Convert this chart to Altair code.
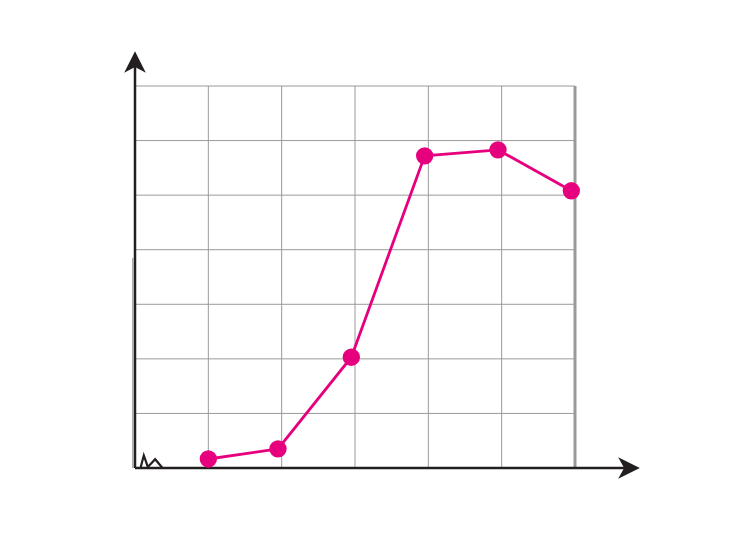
import altair as alt
import pandas as pd

# Data series (x in grid columns, y in grid rows)
xs = [1.0, 1.95, 2.95, 3.95, 4.95, 5.95]
ys = [0.165, 0.35, 2.03, 5.72, 5.83, 5.08]

grid_x = [1, 2, 3, 4, 5]
grid_y = [1, 2, 3, 4, 5, 6, 7]

# axis break zig-zag (data units)
zz_x = [0.075, 0.12, 0.175, 0.275, 0.375]
zz_y = [0.0, 0.23, 0.02, 0.16, 0.0]

# geometry: pixel mapping of the reference
PXX = 440 / 6.0
PXY = 382 / 7.0
W, H = 732, 525
x0 = -(135 - 8) / PXX
x1 = x0 + W / PXX
y1 = 7 + (86 - 8) / PXY
y0 = y1 - H / PXY

xs_ = alt.Scale(domain=[x0, x1], nice=False, zero=False)
ys_ = alt.Scale(domain=[y0, y1], nice=False, zero=False)

GRID = "#9a9a9a"
AX = "#231f20"
PINK = "#e6007e"

vdf = pd.DataFrame({"x": grid_x, "y": [0] * len(grid_x), "y2": [7] * len(grid_x)})
hdf = pd.DataFrame({"y": grid_y, "x": [0] * len(grid_y), "x2": [6] * len(grid_y)})

vgrid = alt.Chart(vdf).mark_rule(color=GRID, strokeWidth=1).encode(
    x=alt.X("x:Q", scale=xs_, axis=None),
    y=alt.Y("y:Q", scale=ys_, axis=None),
    y2="y2:Q",
)
hgrid = alt.Chart(hdf).mark_rule(color=GRID, strokeWidth=1).encode(
    y=alt.Y("y:Q", scale=ys_, axis=None),
    x=alt.X("x:Q", scale=xs_, axis=None),
    x2="x2:Q",
)
right = alt.Chart(pd.DataFrame({"x": [6], "y": [0], "y2": [7]})).mark_rule(
    color=GRID, strokeWidth=3
).encode(
    x=alt.X("x:Q", scale=xs_, axis=None),
    y=alt.Y("y:Q", scale=ys_, axis=None),
    y2="y2:Q",
)
leftgray = alt.Chart(pd.DataFrame({"x": [-0.03], "y": [0], "y2": [3.85]})).mark_rule(
    color="#8a8a8a", strokeWidth=1
).encode(
    x=alt.X("x:Q", scale=xs_, axis=None),
    y=alt.Y("y:Q", scale=ys_, axis=None),
    y2="y2:Q",
)

yaxis = alt.Chart(pd.DataFrame({"x": [0], "y": [0], "y2": [7.4]})).mark_rule(
    color=AX, strokeWidth=2.5
).encode(
    x=alt.X("x:Q", scale=xs_, axis=None),
    y=alt.Y("y:Q", scale=ys_, axis=None),
    y2="y2:Q",
)
xaxis = alt.Chart(pd.DataFrame({"y": [0], "x": [0], "x2": [6.7]})).mark_rule(
    color=AX, strokeWidth=2.5
).encode(
    y=alt.Y("y:Q", scale=ys_, axis=None),
    x=alt.X("x:Q", scale=xs_, axis=None),
    x2="x2:Q",
)

up_arrow = alt.Chart(pd.DataFrame({"x": [0], "y": [(468 - 62) / PXY]})).mark_point(
    shape="M0,-1 L1,1 L0,0.45 L-1,1 Z", filled=True, color=AX, opacity=1, size=470
).encode(
    x=alt.X("x:Q", scale=xs_, axis=None),
    y=alt.Y("y:Q", scale=ys_, axis=None),
)
right_arrow = alt.Chart(pd.DataFrame({"x": [(629 - 135) / PXX], "y": [0]})).mark_point(
    shape="M1,0 L-1,-1 L-0.45,0 L-1,1 Z", filled=True, color=AX, opacity=1, size=470
).encode(
    x=alt.X("x:Q", scale=xs_, axis=None),
    y=alt.Y("y:Q", scale=ys_, axis=None),
)

zz = alt.Chart(pd.DataFrame({"x": zz_x, "y": zz_y, "o": list(range(len(zz_x)))})).mark_line(
    color=AX, strokeWidth=2.2
).encode(
    x=alt.X("x:Q", scale=xs_, axis=None),
    y=alt.Y("y:Q", scale=ys_, axis=None),
    order="o:O",
)

df = pd.DataFrame({"x": xs, "y": ys})
line = alt.Chart(df).mark_line(color=PINK, strokeWidth=2.8).encode(
    x=alt.X("x:Q", scale=xs_, axis=None),
    y=alt.Y("y:Q", scale=ys_, axis=None),
)
pts = alt.Chart(df).mark_circle(color=PINK, opacity=1, size=300).encode(
    x=alt.X("x:Q", scale=xs_, axis=None),
    y=alt.Y("y:Q", scale=ys_, axis=None),
)

chart = alt.layer(
    vgrid, hgrid, right, leftgray, yaxis, xaxis, up_arrow, right_arrow, zz, line, pts
).properties(
    width=W, height=H, padding=0, autosize=alt.AutoSizeParams(type="none")
).configure_view(stroke=None)

chart.save("out.html", embed_options={"renderer": "svg", "actions": False})
